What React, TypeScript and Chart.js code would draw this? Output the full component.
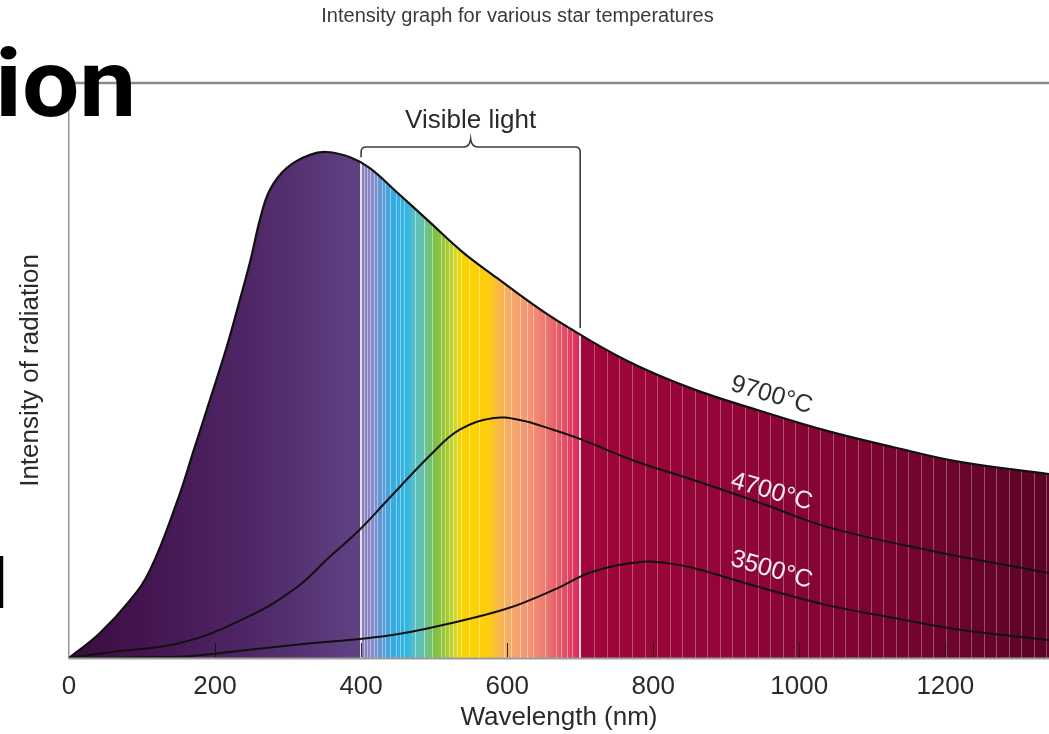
import React, { useEffect, useRef } from "react";
import { Chart, registerables } from "chart.js";

Chart.register(...registerables);

// ---------- text ----------
const TITLE = "Intensity graph for various star temperatures";
const X_TITLE = "Wavelength (nm)";
const Y_TITLE = "Intensity of radiation";
const VISIBLE_LABEL = "Visible light";
const PAGE_HEADING_FRAGMENT = "ion";
const PAGE_TEXT_FRAGMENT = "l";

// ---------- axes ----------
const X_TICKS = [0, 200, 400, 600, 800, 1000, 1200];
const X_MAX = 1342;
const Y_MAX = 100;

// ---------- series (wavelength nm, relative intensity) ----------
const WL_9700 = [0, 42, 84, 111, 148, 170, 193, 216, 234, 248, 262, 275, 298, 330, 353, 385, 412, 449, 494, 539, 586, 631, 676, 764, 854, 946, 1038, 1128, 1220, 1342];
const I_9700 = [0, 4.3, 10.1, 15.3, 27.2, 35.8, 44.9, 54.1, 62.3, 68.9, 76.5, 81.4, 85.2, 87.5, 88.0, 87.1, 85.2, 81.0, 75.8, 70.6, 66.1, 61.9, 58.1, 51.7, 46.8, 43.0, 39.5, 36.7, 34.1, 32.0];

const WL_4700 = [0, 56, 152, 244, 312, 357, 398, 435, 498, 535, 580, 617, 663, 704, 772, 854, 946, 1038, 1175, 1342];
const I_4700 = [0, 1.0, 2.6, 7.1, 12.3, 17.6, 22.3, 27.3, 35.7, 39.7, 41.7, 41.4, 39.7, 37.9, 34.4, 31.0, 27.0, 22.8, 18.8, 14.8];

const WL_3500 = [0, 152, 244, 334, 398, 453, 521, 600, 663, 717, 782, 819, 854, 946, 1038, 1128, 1220, 1342];
const I_3500 = [0, 0.2, 1.4, 2.6, 3.3, 4.2, 6.0, 8.6, 11.8, 15.0, 16.7, 16.5, 15.7, 12.3, 9.2, 7.0, 4.9, 3.1];

const SERIES_NAMES = ["9700°C", "4700°C", "3500°C"];
const LABEL_NM = [962, 962, 962];
const LABEL_I = [45.7, 28.9, 15.3];
const LABEL_COLORS = ["#2e2e2e", "#f6eef2", "#f6eef2"];

// ---------- spectrum fill ----------
const SPECTRUM_NM = [0, 100, 250, 398, 402, 415, 428, 445, 462, 472, 488, 500, 515, 528, 538, 575, 590, 615, 640, 665, 690, 699, 701, 900, 1100, 1342];
const SPECTRUM_COLORS = ["#3b0c3e", "#431450", "#4f2766", "#5f4282", "#8d7cbc", "#8a8ccc", "#5b9ad8", "#34ace0", "#2fb5e3", "#56c0c8", "#6cc2a0", "#7cc04a", "#9cc630", "#cfd62a", "#fcd400", "#fccd10", "#f9b650", "#f6a272", "#f28a72", "#e8646c", "#e03a62", "#d82c5e", "#a1063a", "#920538", "#7c0430", "#5b0425"];
const VISIBLE_BOUNDS_NM = [400, 700];
const VISIBLE_LINES_NM = [405, 409, 413, 418, 423, 429, 434, 440, 448, 454, 460, 467, 474, 482, 487, 493, 498, 504, 510, 515, 521, 527, 532, 537, 548, 562, 596, 606, 618, 628, 636, 645, 652, 660, 668, 675, 683, 690];
const IR_LINE_START = 720;
const IR_LINE_STEP = 17.2;

function hexToRgb(h: string): number[] {
  const n = parseInt(h.slice(1), 16);
  return [(n >> 16) & 255, (n >> 8) & 255, n & 255];
}
const SPECTRUM_RGB = SPECTRUM_COLORS.map(hexToRgb);

function baseAt(nm: number): number[] {
  if (nm <= SPECTRUM_NM[0]) return SPECTRUM_RGB[0];
  for (let i = 1; i < SPECTRUM_NM.length; i++) {
    if (nm <= SPECTRUM_NM[i]) {
      const t = (nm - SPECTRUM_NM[i - 1]) / (SPECTRUM_NM[i] - SPECTRUM_NM[i - 1]);
      const a = SPECTRUM_RGB[i - 1], b = SPECTRUM_RGB[i];
      return [0, 1, 2].map((k) => a[k] + (b[k] - a[k]) * t);
    }
  }
  return SPECTRUM_RGB[SPECTRUM_RGB.length - 1];
}
function rgbStr(c: number[]): string {
  return `rgb(${c.map((v) => Math.round(v)).join(",")})`;
}
function toWhite(c: number[], m: number): number[] {
  return c.map((v) => v + (255 - v) * m);
}

function spectrumGradient(chart: any) {
  const xs = chart.scales.x;
  const x0 = xs.getPixelForValue(0);
  const x1 = xs.getPixelForValue(X_MAX);
  const g = chart.ctx.createLinearGradient(x0, 0, x1, 0);
  const nmPerPx = X_MAX / (x1 - x0);
  const stripes: { nm: number; hw: number; m: number }[] = [];
  VISIBLE_BOUNDS_NM.forEach((nm) => stripes.push({ nm, hw: 1.3 * nmPerPx, m: 0.82 }));
  VISIBLE_LINES_NM.forEach((nm) => stripes.push({ nm, hw: 0.45 * nmPerPx, m: 0.42 }));
  for (let nm = IR_LINE_START; nm < X_MAX; nm += IR_LINE_STEP) {
    stripes.push({ nm, hw: 0.5 * nmPerPx, m: 0.3 });
  }
  const events: { nm: number; cols: string[] }[] = [];
  SPECTRUM_NM.forEach((nm, i) => {
    if (!stripes.some((s) => nm >= s.nm - s.hw && nm <= s.nm + s.hw)) {
      events.push({ nm, cols: [SPECTRUM_COLORS[i]] });
    }
  });
  stripes.forEach((s) => {
    const a = s.nm - s.hw, b = s.nm + s.hw;
    const sc = rgbStr(toWhite(baseAt(s.nm), s.m));
    events.push({ nm: a, cols: [rgbStr(baseAt(a)), sc] });
    events.push({ nm: b, cols: [sc, rgbStr(baseAt(b))] });
  });
  events.sort((p, q) => p.nm - q.nm);
  events.forEach((e) => {
    const o = Math.min(1, Math.max(0, e.nm / X_MAX));
    e.cols.forEach((c) => g.addColorStop(o, c));
  });
  return g;
}

function interp(xs: number[], ys: number[], x: number): number {
  for (let i = 1; i < xs.length; i++) {
    if (x <= xs[i]) {
      const t = (x - xs[i - 1]) / (xs[i] - xs[i - 1]);
      return ys[i - 1] + (ys[i] - ys[i - 1]) * t;
    }
  }
  return ys[ys.length - 1];
}

const FONT = '"Liberation Sans", Arial, Helvetica, sans-serif';

const annotationPlugin = {
  id: "starAnnotations",
  afterDatasetsDraw(chart: any) {
    const { ctx, chartArea, scales } = chart;
    const x = scales.x, y = scales.y;
    ctx.save();
    // bottom axis line
    ctx.strokeStyle = "#9c9c9c";
    ctx.lineWidth = 2;
    ctx.beginPath();
    ctx.moveTo(chartArea.left, chartArea.bottom + 0.5);
    ctx.lineTo(chartArea.right, chartArea.bottom + 0.5);
    ctx.stroke();
    // top frame line
    ctx.strokeStyle = "#8a8a8a";
    ctx.lineWidth = 2.5;
    ctx.beginPath();
    ctx.moveTo(chartArea.left - 1, chartArea.top);
    ctx.lineTo(chartArea.right, chartArea.top);
    ctx.stroke();
    // inner tick marks
    ctx.strokeStyle = "rgba(25,10,20,0.85)";
    ctx.lineWidth = 1;
    X_TICKS.filter((v) => v > 0).forEach((v) => {
      const px = Math.round(x.getPixelForValue(v)) + 0.5;
      ctx.beginPath();
      ctx.moveTo(px, chartArea.bottom - 1);
      ctx.lineTo(px, chartArea.bottom - 15);
      ctx.stroke();
    });
    // curve labels
    ctx.font = `25px ${FONT}`;
    ctx.textAlign = "center";
    ctx.textBaseline = "middle";
    SERIES_NAMES.forEach((name, i) => {
      ctx.save();
      ctx.translate(x.getPixelForValue(LABEL_NM[i]), y.getPixelForValue(LABEL_I[i]));
      ctx.rotate((16 * Math.PI) / 180);
      ctx.fillStyle = LABEL_COLORS[i];
      ctx.fillText(name, 0, 0);
      ctx.restore();
    });
    // visible light bracket
    const xl = x.getPixelForValue(VISIBLE_BOUNDS_NM[0]);
    const xr = x.getPixelForValue(VISIBLE_BOUNDS_NM[1]);
    const xc = (xl + xr) / 2;
    const yb = chartArea.top + 64;
    const yl = y.getPixelForValue(interp(WL_9700, I_9700, VISIBLE_BOUNDS_NM[0])) - 6;
    const yr = y.getPixelForValue(interp(WL_9700, I_9700, VISIBLE_BOUNDS_NM[1])) - 6;
    const r = 5;
    ctx.strokeStyle = "#3c3c3c";
    ctx.lineWidth = 1.6;
    ctx.beginPath();
    ctx.moveTo(xl, yl);
    ctx.lineTo(xl, yb + r);
    ctx.quadraticCurveTo(xl, yb, xl + r, yb);
    ctx.lineTo(xc - 7, yb);
    ctx.quadraticCurveTo(xc - 1, yb, xc, yb - 8);
    ctx.quadraticCurveTo(xc + 1, yb, xc + 7, yb);
    ctx.lineTo(xr - r, yb);
    ctx.quadraticCurveTo(xr, yb, xr, yb + r);
    ctx.lineTo(xr, yr);
    ctx.stroke();
    ctx.fillStyle = "#2a2a2a";
    ctx.font = `26px ${FONT}`;
    ctx.textAlign = "center";
    ctx.textBaseline = "alphabetic";
    ctx.fillText(VISIBLE_LABEL, xc, chartArea.top + 45);
    ctx.restore();
  },
  afterDraw(chart: any) {
    const { ctx } = chart;
    ctx.save();
    ctx.fillStyle = "#3a3a3a";
    ctx.font = `20px ${FONT}`;
    ctx.textAlign = "center";
    ctx.textBaseline = "middle";
    ctx.fillText(TITLE, chart.width / 2 - 7, 16);
    ctx.restore();
  },
};

function toPoints(xs: number[], ys: number[]) {
  return xs.map((v, i) => ({ x: v, y: ys[i] }));
}

export default function App() {
  const canvasRef = useRef<HTMLCanvasElement | null>(null);

  useEffect(() => {
    const canvas = canvasRef.current;
    if (!canvas) return;
    const chart = new Chart(canvas, {
      type: "line",
      data: {
        datasets: [
          {
            label: SERIES_NAMES[0],
            data: toPoints(WL_9700, I_9700),
            borderColor: "#111",
            borderWidth: 2.2,
            pointRadius: 0,
            fill: "origin",
            backgroundColor: (c: any) => {
              const ch = c.chart;
              if (!ch.chartArea) return SPECTRUM_COLORS[0];
              return spectrumGradient(ch);
            },
            tension: 0.4,
            order: 3,
          },
          {
            label: SERIES_NAMES[1],
            data: toPoints(WL_4700, I_4700),
            borderColor: "#111",
            borderWidth: 2,
            pointRadius: 0,
            fill: false,
            tension: 0.4,
            order: 2,
          },
          {
            label: SERIES_NAMES[2],
            data: toPoints(WL_3500, I_3500),
            borderColor: "#111",
            borderWidth: 2,
            pointRadius: 0,
            fill: false,
            tension: 0.4,
            order: 1,
          },
        ],
      },
      options: {
        responsive: false,
        animation: false,
        layout: { padding: { top: 83, left: 0, right: 0, bottom: 0 } },
        plugins: {
          legend: { display: false },
          title: { display: false },
          tooltip: { enabled: false },
        },
        scales: {
          x: {
            type: "linear",
            min: 0,
            max: X_MAX,
            position: "bottom",
            grid: { display: false, drawTicks: false },
            border: { display: false },
            ticks: {
              stepSize: 200,
              includeBounds: false,
              autoSkip: false,
              maxRotation: 0,
              padding: 13,
              color: "#2a2a2a",
              font: { family: FONT, size: 26 },
              callback: (v: any) => String(v),
            },
            title: {
              display: true,
              text: X_TITLE,
              color: "#2a2a2a",
              font: { family: FONT, size: 26 },
              padding: { top: 0, bottom: 1 },
            },
            afterFit: (s: any) => {
              s.height = 76;
              s.paddingLeft = 0;
              s.paddingRight = 0;
            },
          },
          y: {
            type: "linear",
            min: 0,
            max: Y_MAX,
            position: "left",
            grid: { display: false, drawTicks: false },
            border: { display: true, color: "#959595", width: 1.5 },
            ticks: { display: false },
            title: {
              display: true,
              text: Y_TITLE,
              color: "#2a2a2a",
              font: { family: FONT, size: 26 },
              padding: { top: 15, bottom: 0 },
            },
            afterFit: (s: any) => {
              s.width = 69;
              s.paddingTop = 0;
              s.paddingBottom = 0;
            },
          },
        },
      },
      plugins: [annotationPlugin],
    } as any);
    return () => chart.destroy();
  }, []);

  return (
    <div
      style={{
        position: "absolute",
        left: 0,
        top: 0,
        width: 1049,
        height: 734,
        overflow: "hidden",
        background: "#fff",
      }}
    >
      <canvas ref={canvasRef} width={1049} height={734} style={{ display: "block" }} />
      <div
        style={{
          position: "absolute",
          left: -5,
          top: 36,
          font: "700 95px Roboto",
          lineHeight: 1,
          color: "#000",
          whiteSpace: "nowrap",
          transform: "scaleX(1.07)",
          transformOrigin: "left top",
        }}
      >
        {PAGE_HEADING_FRAGMENT}
      </div>
      <div
        style={{
          position: "absolute",
          left: -11,
          top: 549,
          font: "700 70px Roboto",
          lineHeight: 1,
          color: "#000",
          whiteSpace: "nowrap",
        }}
      >
        {PAGE_TEXT_FRAGMENT}
      </div>
    </div>
  );
}
